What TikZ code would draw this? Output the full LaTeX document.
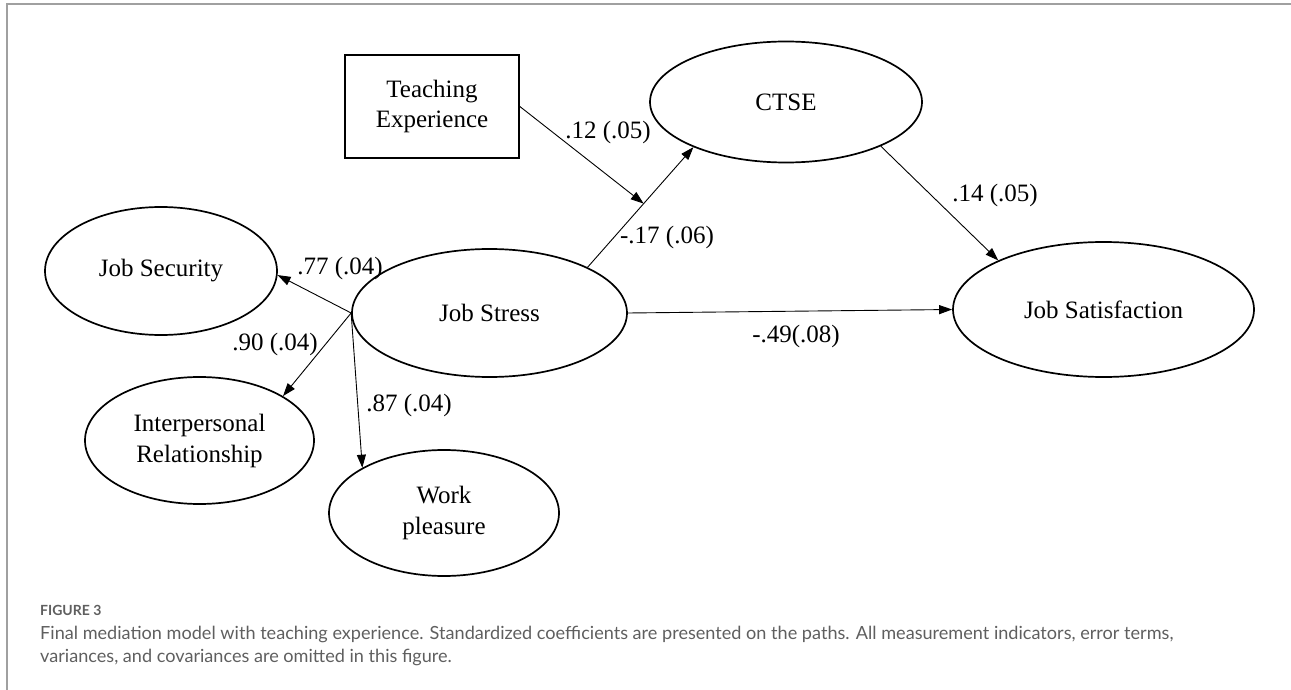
\documentclass[tikz,border=0pt]{standalone}
\usepackage{fontspec}
\setmainfont{Liberation Serif}
\newfontfamily\capfont{Lato}
\usetikzlibrary{shapes.geometric,arrows.meta,calc}
\definecolor{framegray}{RGB}{160,160,160}
\definecolor{capgray}{RGB}{95,95,95}
\tikzset{
  latent/.style={draw, ellipse, line width=1.7pt, inner sep=0pt, align=center, font=\fontsize{25}{31}\selectfont},
  observed/.style={draw, rectangle, line width=1.7pt, inner sep=0pt, align=center, font=\fontsize{25}{30}\selectfont},
  path/.style={line width=0.9pt, -{Triangle[length=13pt,width=9pt]}},
  coef/.style={font=\fontsize{25}{30}\selectfont, inner sep=0pt},
  captext/.style={font=\capfont\fontsize{18.1}{23}\selectfont, text=capgray, anchor=west, inner sep=0pt}
}
\begin{document}
\begin{tikzpicture}[x=1pt,y=-1pt]
\useasboundingbox (0,0) rectangle (1291,690);
% frame
\draw[framegray, line width=2pt] (7,690) -- (7,4) -- (1291,4);

% nodes
\node[observed, minimum width=174pt, minimum height=103pt] (te) at (432,106.5) {Teaching\\Experience};
\node[latent, minimum width=272pt, minimum height=121pt] (ctse) at (786,102) {CTSE};
\node[latent, minimum width=275pt, minimum height=128pt] (js) at (489.5,313) {Job Stress};
\node[latent, minimum width=301pt, minimum height=135pt] (jsat) at (1103.5,309.5) {Job Satisfaction};
\node[latent, minimum width=232pt, minimum height=128pt] (jsec) at (161,271) {Job Security};
\node[latent, minimum width=229pt, minimum height=127pt] (ip) at (199.5,440.5) {Interpersonal\\Relationship};
\node[latent, minimum width=230pt, minimum height=126pt] (wp) at (444,513) {Work\\pleasure};

% connectors
\draw[path] (js.west) -- (jsec.-2);
\draw[path] (js.west) -- (ip.28);
\draw[path] (js.west) -- (wp.151);
\draw[path] (js.25) -- (ctse.206);
\coordinate (mid) at ($(js.25)!0.53!(ctse.206)$);
\draw[path] (te.east) -- (mid);
\draw[path] (ctse.-25) -- (jsat.155);
\draw[path] (js.east) -- (jsat.west);

% coefficients
\node[coef] (c1) at (340,268) {.77 (.04)};
\node[coef] (c2) at (275,344) {.90 (.04)};
\node[coef] (c3) at (409,405) {.87 (.04)};
\node[coef] (c4) at (667,237) {-.17 (.06)};
\node[coef] (c5) at (608,132) {.12 (.05)};
\node[coef] (c6) at (995,195) {.14 (.05)};
\node[coef] (c7) at (796,336) {-.49(.08)};

% caption
\node[captext, font=\capfont\bfseries\fontsize{14}{16}\selectfont] (fig) at (40,610) {FIGURE 3};
\node[captext] (cap1) at (40,634) {Final mediation model with teaching experience. Standardized coefficients are presented on the paths. All measurement indicators, error terms,};
\node[captext] (cap2) at (40,657) {variances, and covariances are omitted in this figure.};
\end{tikzpicture}
\end{document}
